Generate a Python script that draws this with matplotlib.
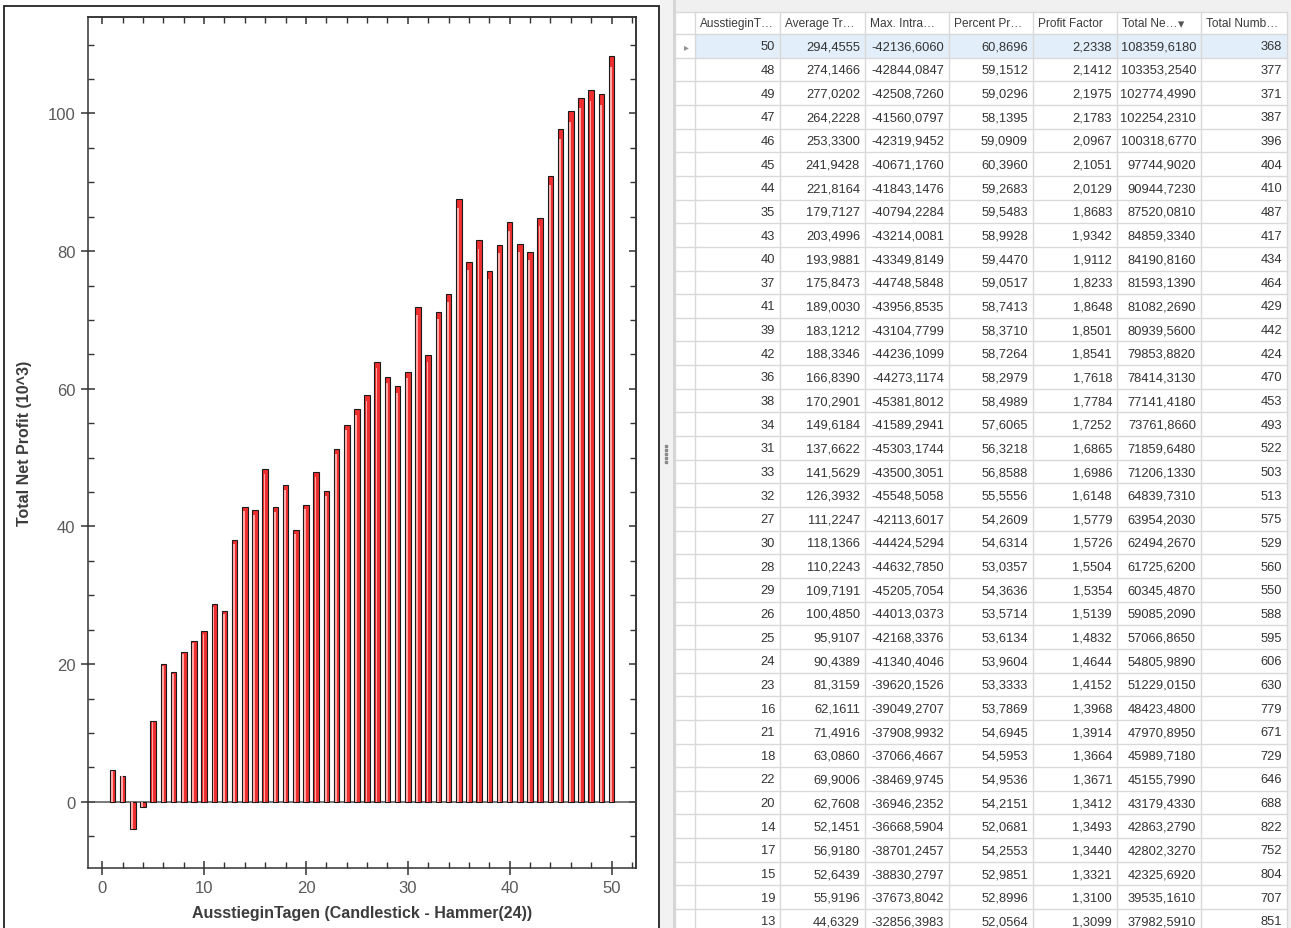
import numpy as np
import matplotlib
matplotlib.use("Agg")
import matplotlib.pyplot as plt
from matplotlib.patches import Rectangle
from matplotlib.ticker import MultipleLocator

# grid rows (sorted by Total Net Profit, as in the reference)
ausstieg_tage = [50, 48, 49, 47, 46, 45, 44, 35, 43, 40, 37, 41, 39, 42, 36, 38, 34, 31, 33,
                 32, 27, 30, 28, 29, 26, 25, 24, 23, 16, 21, 18, 22, 20, 14, 17, 15, 19, 13]
avg_trade = [294.4555, 274.1466, 277.0202, 264.2228, 253.3300, 241.9428, 221.8164, 179.7127,
             203.4996, 193.9881, 175.8473, 189.0030, 183.1212, 188.3346, 166.8390, 170.2901,
             149.6184, 137.6622, 141.5629, 126.3932, 111.2247, 118.1366, 110.2243, 109.7191,
             100.4850, 95.9107, 90.4389, 81.3159, 62.1611, 71.4916, 63.0860, 69.9006, 62.7608,
             52.1451, 56.9180, 52.6439, 55.9196, 44.6329]
max_intraday_dd = [-42136.6060, -42844.0847, -42508.7260, -41560.0797, -42319.9452, -40671.1760,
                   -41843.1476, -40794.2284, -43214.0081, -43349.8149, -44748.5848, -43956.8535,
                   -43104.7799, -44236.1099, -44273.1174, -45381.8012, -41589.2941, -45303.1744,
                   -43500.3051, -45548.5058, -42113.6017, -44424.5294, -44632.7850, -45205.7054,
                   -44013.0373, -42168.3376, -41340.4046, -39620.1526, -39049.2707, -37908.9932,
                   -37066.4667, -38469.9745, -36946.2352, -36668.5904, -38701.2457, -38830.2797,
                   -37673.8042, -32856.3983]
percent_profitable = [60.8696, 59.1512, 59.0296, 58.1395, 59.0909, 60.3960, 59.2683, 59.5483,
                      58.9928, 59.4470, 59.0517, 58.7413, 58.3710, 58.7264, 58.2979, 58.4989,
                      57.6065, 56.3218, 56.8588, 55.5556, 54.2609, 54.6314, 53.0357, 54.3636,
                      53.5714, 53.6134, 53.9604, 53.3333, 53.7869, 54.6945, 54.5953, 54.9536,
                      54.2151, 52.0681, 54.2553, 52.9851, 52.8996, 52.0564]
profit_factor = [2.2338, 2.1412, 2.1975, 2.1783, 2.0967, 2.1051, 2.0129, 1.8683, 1.9342, 1.9112,
                 1.8233, 1.8648, 1.8501, 1.8541, 1.7618, 1.7784, 1.7252, 1.6865, 1.6986, 1.6148,
                 1.5779, 1.5726, 1.5504, 1.5354, 1.5139, 1.4832, 1.4644, 1.4152, 1.3968, 1.3914,
                 1.3664, 1.3671, 1.3412, 1.3493, 1.3440, 1.3321, 1.3100, 1.3099]
total_net_profit = [108359.6180, 103353.2540, 102774.4990, 102254.2310, 100318.6770, 97744.9020,
                    90944.7230, 87520.0810, 84859.3340, 84190.8160, 81593.1390, 81082.2690,
                    80939.5600, 79853.8820, 78414.3130, 77141.4180, 73761.8660, 71859.6480,
                    71206.1330, 64839.7310, 63954.2030, 62494.2670, 61725.6200, 60345.4870,
                    59085.2090, 57066.8650, 54805.9890, 51229.0150, 48423.4800, 47970.8950,
                    45989.7180, 45155.7990, 43179.4330, 42863.2790, 42802.3270, 42325.6920,
                    39535.1610, 37982.5910]
total_trades = [368, 377, 371, 387, 396, 404, 410, 487, 417, 434, 464, 429, 442, 424, 470, 453,
                493, 522, 503, 513, 575, 529, 560, 550, 588, 595, 606, 630, 779, 671, 729, 646,
                688, 822, 752, 804, 707, 851]

# days 1-12 only visible in the chart (in 10^3)
early_days = [1, 2, 3, 4, 5, 6, 7, 8, 9, 10, 11, 12]
early_profit_k = [4.6, 3.8, -4.0, -0.7, 11.8, 20.1, 18.8, 21.8, 23.4, 24.8, 28.7, 27.7]

headers = ["AusstieginT\u2026", "Average Tr\u2026", "Max. Intra\u2026", "Percent Pr\u2026",
           "Profit Factor", "Total Ne\u2026", "Total Numb\u2026"]

W, H = 1291, 929
fig = plt.figure(figsize=(W / 100, H / 100), dpi=100)
fig.patch.set_facecolor("white")

# ---- background / grid layer in pixel coords
bg = fig.add_axes([0, 0, 1, 1])
bg.set_xlim(0, W)
bg.set_ylim(H, 0)
bg.axis("off")

bg.add_patch(Rectangle((4, 7), 655, 930, facecolor="white", edgecolor="#222222", lw=1.3))
bg.add_patch(Rectangle((660, 0), 14, H, facecolor="#f2f2f2", edgecolor="none"))
bg.plot([673.5, 673.5], [0, H], color="#d4d4d4", lw=2)
bg.scatter([666] * 5, [447, 451, 455, 459, 463], s=2, color="#8a8a8a", marker="s")
bg.add_patch(Rectangle((675, 0), W - 675, 12.5, facecolor="#f0f0f0", edgecolor="none"))

col_edges = [695, 780, 865, 949, 1033, 1117, 1201, 1287]
head_top, head_bot = 12.5, 35.0
row_h = 23.65
n_rows = len(ausstieg_tage)
grid_col = "#d9d9d9"
hfont = dict(family="Liberation Sans", fontsize=8.6, color="#3a3a3a")
tfont = dict(family="Liberation Sans", fontsize=9.3, color="#333333")

# selected row
bg.add_patch(Rectangle((col_edges[0], head_bot), col_edges[-1] - col_edges[0], row_h,
                       facecolor="#e2eef9", edgecolor="none"))
bg.text(686, head_bot + row_h / 2, "\u25b8", ha="center", va="center",
        fontsize=7, color="#909090", family="DejaVu Sans")

# grid lines
bg.plot([675, col_edges[-1]], [head_top, head_top], color=grid_col, lw=1)
for i in range(n_rows + 1):
    y = head_bot + i * row_h
    bg.plot([675, col_edges[-1]], [y, y], color=grid_col, lw=1)
for x in [675] + col_edges:
    bg.plot([x, x], [head_top, H], color=grid_col, lw=1)
bg.add_patch(Rectangle((col_edges[-1] + 1, 0), W - col_edges[-1], H, facecolor="#f0f0f0",
                       edgecolor="none"))

for j, h in enumerate(headers):
    bg.text(col_edges[j] + 5, (head_top + head_bot) / 2 + 0.5, h, ha="left", va="center", **hfont)
bg.text(1181, (head_top + head_bot) / 2 + 0.5, "\u25be", ha="center", va="center",
        fontsize=9, color="#555555", family="DejaVu Sans")


def fmt(v):
    return f"{v:.4f}".replace(".", ",")


columns = [
    [str(v) for v in ausstieg_tage],
    [fmt(v) for v in avg_trade],
    [fmt(v) for v in max_intraday_dd],
    [fmt(v) for v in percent_profitable],
    [fmt(v) for v in profit_factor],
    [fmt(v) for v in total_net_profit],
    [str(v) for v in total_trades],
]
for j, col in enumerate(columns):
    for i, s in enumerate(col):
        y = head_bot + (i + 0.5) * row_h + 0.5
        bg.text(col_edges[j + 1] - 5, y, s, ha="right", va="center", **tfont)

# ---- bar chart
ax = fig.add_axes([88 / W, 1 - 869 / H, (636 - 88) / W, (869 - 18) / H])
days = early_days + ausstieg_tage
profit_k = early_profit_k + [v / 1000 for v in total_net_profit]

ax.bar(days, profit_k, width=0.55, color="#f03030", edgecolor="#1a1a1a", linewidth=0.8, zorder=3)
ax.bar(np.array(days) - 0.07, np.array(profit_k) * 0.985, width=0.17, color="#ffa8a8",
       edgecolor="none", zorder=4)
ax.axhline(0, color="#555555", lw=1.1, zorder=2)

ax.set_xlim(-1.4, 52.4)
ax.set_ylim(-9.6, 114)
ax.xaxis.set_major_locator(MultipleLocator(10))
ax.xaxis.set_minor_locator(MultipleLocator(2))
ax.yaxis.set_major_locator(MultipleLocator(20))
ax.yaxis.set_minor_locator(MultipleLocator(5))
ax.tick_params(which="major", direction="inout", length=10, width=1.1, color="#333333",
               labelsize=12, labelcolor="#5a5a5a", pad=4)
ax.tick_params(which="minor", direction="in", length=4, width=1, color="#333333")
for lab in ax.get_xticklabels() + ax.get_yticklabels():
    lab.set_family("Liberation Sans")

# inward-only ticks on the top and right edges
top = ax.secondary_xaxis("top")
top.xaxis.set_major_locator(MultipleLocator(10))
top.xaxis.set_minor_locator(MultipleLocator(2))
top.tick_params(which="both", direction="in", labeltop=False, color="#333333")
top.tick_params(which="major", length=5, width=1.1)
top.tick_params(which="minor", length=4, width=1)
right = ax.secondary_yaxis("right")
right.yaxis.set_major_locator(MultipleLocator(20))
right.yaxis.set_minor_locator(MultipleLocator(5))
right.tick_params(which="both", direction="in", labelright=False, color="#333333")
right.tick_params(which="major", length=5, width=1.1)
right.tick_params(which="minor", length=4, width=1)
for sec in (top, right):
    for s in sec.spines.values():
        s.set_color("#333333")
        s.set_linewidth(1.1)

for s in ax.spines.values():
    s.set_color("#333333")
    s.set_linewidth(1.1)

ax.set_xlabel("AusstieginTagen (Candlestick - Hammer(24))", family="Liberation Sans",
              fontsize=11.5, fontweight="bold", color="#3c3c3c")
ax.set_ylabel("Total Net Profit (10^3)", family="Liberation Sans",
              fontsize=11.5, fontweight="bold", color="#3c3c3c")
ax.xaxis.set_label_coords((362 - 88) / 548, (869 - 914) / 851)
ax.yaxis.set_label_coords((25 - 88) / 548, (869 - 443) / 851)
ax.xaxis.label.set_va("center")
ax.yaxis.label.set_va("center")

fig.savefig("out.png", dpi=100)
